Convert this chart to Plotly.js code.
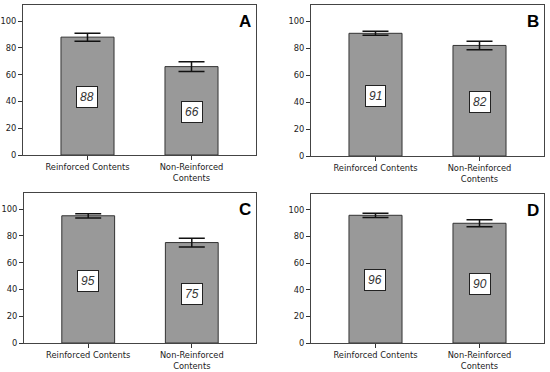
<!DOCTYPE html>
<html>
<head>
<meta charset="utf-8">
<script src="https://cdn.plot.ly/plotly-3.0.1.min.js"></script>
<style>html,body{margin:0;padding:0;background:#fff}#chart{width:550px;height:372px}</style>
</head>
<body>
<div id="chart"></div>
<script>
var categories = ["Reinforced Contents", "Non-Reinforced<br>Contents"];
var panelLetters = ["A", "B", "C", "D"];
var meansA = [88, 66];
var meansB = [91, 82];
var meansC = [95, 75];
var meansD = [96, 90];
var errA = [3.0, 3.6];
var errB = [1.5, 3.2];
var errC = [1.6, 3.3];
var errD = [1.6, 2.6];
var yTicks = [0, 20, 40, 60, 80, 100];

var means = [meansA, meansB, meansC, meansD];
var errs = [errA, errB, errC, errD];

var domainsX = [[23/550, 256/550], [311/550, 544/550], [24/550, 256/550], [311/550, 544/550]];
var domainsY = [[1-155/372, 1-5/372], [1-156/372, 1-5/372], [1-343/372, 1-193/372], [1-343/372, 1-194/372]];

var font = {family: "DejaVu Sans", size: 8.3, color: "#222"};
var data = [];
var layout = {
  width: 550, height: 372,
  margin: {l: 0, r: 0, t: 0, b: 0},
  paper_bgcolor: "#fff", plot_bgcolor: "#fff",
  showlegend: false,
  font: font,
  annotations: []
};

for (var i = 0; i < 4; i++) {
  var sfx = i === 0 ? "" : String(i + 1);
  data.push({
    type: "bar",
    x: [0, 1],
    y: means[i],
    width: 0.51,
    xaxis: "x" + sfx, yaxis: "y" + sfx,
    marker: {color: "#999999", line: {color: "#333", width: 1}},
    error_y: {type: "data", array: errs[i], visible: true, color: "#111", thickness: 1.5, width: 13},
    hoverinfo: "none"
  });
  layout["xaxis" + sfx] = {
    domain: domainsX[i], anchor: "y" + sfx,
    range: [-0.62, 1.62],
    tickmode: "array", tickvals: [0, 1], ticktext: categories,
    ticks: "outside", ticklen: 4, tickcolor: "#333",
    showline: true, mirror: true, linecolor: "#444", linewidth: 1,
    showgrid: false, zeroline: false, fixedrange: true,
    tickfont: font
  };
  layout["yaxis" + sfx] = {
    domain: domainsY[i], anchor: "x" + sfx,
    range: [0, 112],
    tickmode: "array", tickvals: yTicks,
    ticks: "outside", ticklen: 4, tickcolor: "#333",
    showline: true, mirror: true, linecolor: "#444", linewidth: 1,
    showgrid: false, zeroline: false, fixedrange: true,
    tickfont: font
  };
  for (var j = 0; j < 2; j++) {
    layout.annotations.push({
      xref: "x" + sfx, yref: "y" + sfx,
      x: j, y: means[i][j] / 2 - 1,
      text: "<i>" + means[i][j] + "</i>",
      showarrow: false,
      bgcolor: "#fff", bordercolor: "#222", borderwidth: 1, borderpad: 3,
      font: {family: "Liberation Sans", size: 12, color: "#333"}
    });
  }
  layout.annotations.push({
    xref: "x" + sfx + " domain", yref: "y" + sfx + " domain",
    x: 0.985, y: 0.89, xanchor: "right", yanchor: "middle",
    text: "<b>" + panelLetters[i] + "</b>",
    showarrow: false,
    font: {family: "Liberation Sans", size: 17, color: "#000"}
  });
}

Plotly.newPlot("chart", data, layout, {displayModeBar: false, staticPlot: true});
</script>
</body>
</html>
